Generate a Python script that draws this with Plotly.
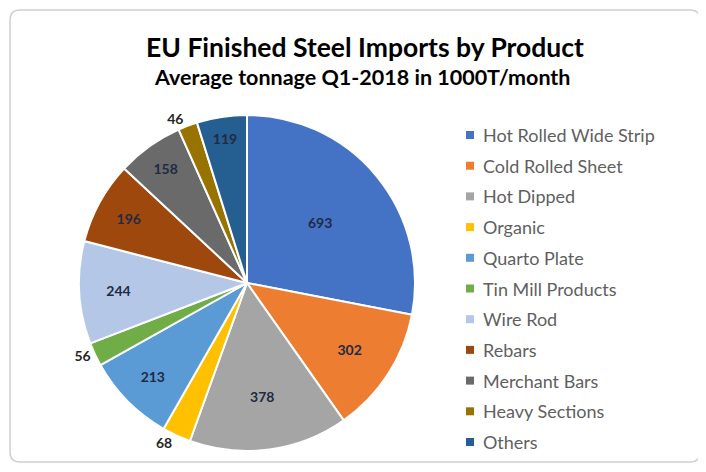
import plotly.graph_objects as go

categories = ["Hot Rolled Wide Strip", "Cold Rolled Sheet", "Hot Dipped", "Organic",
              "Quarto Plate", "Tin Mill Products", "Wire Rod", "Rebars",
              "Merchant Bars", "Heavy Sections", "Others"]
values = [693, 302, 378, 68, 213, 56, 244, 196, 158, 46, 119]
colors = ["#4472C4", "#ED7D31", "#A5A5A5", "#FFC000", "#5B9BD5", "#70AD47",
          "#B4C7E7", "#9E480E", "#6A6A6A", "#997300", "#255E91"]
label_pos = ["inside", "inside", "inside", "outside", "inside", "outside",
             "inside", "inside", "inside", "outside", "inside"]

# page is 706x472; the html body adds an 8px offset, so the figure is 698x464
OFF = 8
W, H = 706 - OFF, 472 - OFF

def px(x):
    return (x - OFF) / W

def py(y):
    return 1 - (y - OFF) / H

fig = go.Figure()
fig.add_trace(go.Pie(
    labels=categories, values=values, sort=False, direction="clockwise",
    rotation=0,
    marker=dict(colors=colors, line=dict(color="white", width=2)),
    texttemplate="%{value}", textposition=label_pos,
    insidetextorientation="horizontal",
    textfont=dict(family="Lato", size=14, color="#1F2A44", weight="bold"),
    outsidetextfont=dict(family="Lato", size=14, color="#262626", weight="bold"),
    domain=dict(x=[px(79), px(415)], y=[py(451), py(115)]),
    showlegend=False, hoverinfo="label+value",
))

# frame
r = 10
x0, x1, y0, y1 = px(10), px(700), py(462), py(10)
rx, ry = r / W, r / H
path = (f"M {x0+rx},{y1} L {x1-rx},{y1} Q {x1},{y1} {x1},{y1-ry} "
        f"L {x1},{y0+ry} Q {x1},{y0} {x1-rx},{y0} L {x0+rx},{y0} "
        f"Q {x0},{y0} {x0},{y0+ry} L {x0},{y1-ry} Q {x0},{y1} {x0+rx},{y1} Z")
shapes = [dict(type="path", xref="paper", yref="paper", path=path,
               line=dict(color="#D0D0D0", width=1.5), fillcolor="white", layer="below")]

annotations = [dict(text="<b>Average tonnage Q1-2018 in 1000T/month</b>",
                    x=px(362), y=py(77), xref="paper", yref="paper",
                    xanchor="center", yanchor="middle", showarrow=False,
                    font=dict(family="Lato", size=21.5, color="#000000"))]

# legend (manual)
for i, (name, col) in enumerate(zip(categories, colors)):
    yc = 135 + i * 30.7
    shapes.append(dict(type="rect", xref="paper", yref="paper",
                       x0=px(466), x1=px(474), y0=py(yc + 4), y1=py(yc - 4),
                       fillcolor=col, line=dict(width=0)))
    annotations.append(dict(text=name, x=px(481), y=py(yc), xref="paper", yref="paper",
                            xanchor="left", yanchor="middle", showarrow=False,
                            font=dict(family="Lato", size=18, color="#5F5F5F")))

fig.update_layout(
    width=W, height=H, margin=dict(l=0, r=0, t=0, b=0),
    paper_bgcolor="white", plot_bgcolor="white",
    title=dict(text="<b>EU Finished Steel Imports by Product</b>",
               x=px(365), xanchor="center", xref="paper",
               y=py(48), yanchor="middle", yref="paper",
               font=dict(family="Lato", size=26.5, color="#000000")),
    shapes=shapes, annotations=annotations,
)

fig.write_html("out.html")
